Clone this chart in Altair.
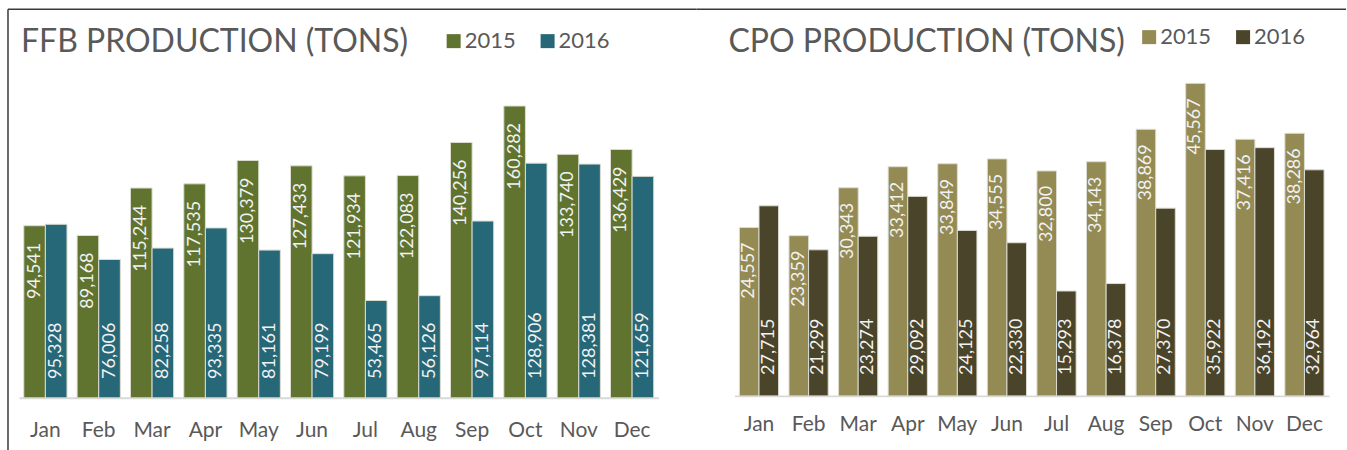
import altair as alt
import pandas as pd

months = ["Jan", "Feb", "Mar", "Apr", "May", "Jun", "Jul", "Aug", "Sep", "Oct", "Nov", "Dec"]
years = ["2015", "2016"]

ffb_2015 = [94541, 89168, 115244, 117535, 130379, 127433, 121934, 122083, 140256, 160282, 133740, 136429]
ffb_2016 = [95328, 76006, 82258, 93335, 81161, 79199, 53465, 56126, 97114, 128906, 128381, 121659]
cpo_2015 = [24557, 23359, 30343, 33412, 33849, 34555, 32800, 34143, 38869, 45567, 37416, 38286]
cpo_2016 = [27715, 21299, 23274, 29092, 24125, 22330, 15293, 16378, 27370, 35922, 36192, 32964]

ffb_colors = ["#607430", "#266878"]
cpo_colors = ["#948A54", "#4A452A"]

FONT = "Lato"
GRAY = "#595959"
FRAME = "#3a3a3a"


def panel(title, v15, v16, colors, width, height, ymax, pin, pout, label_pad,
          dx_top, dx_base, title_dx, legend_x, legend_y, rule_x1, rule_x2, left_rule):
    df = pd.DataFrame({
        "month": months * 2,
        "year": ["2015"] * 12 + ["2016"] * 12,
        "value": v15 + v16,
    })
    base = alt.Chart(df)
    x = alt.X("month:N", sort=months,
              scale=alt.Scale(paddingInner=pin, paddingOuter=pout),
              axis=alt.Axis(title=None, labelAngle=0, labelFont=FONT, labelFontSize=21,
                            labelColor=GRAY, labelPadding=label_pad, ticks=False,
                            domainColor="#d9d9d9", domainWidth=2, grid=False))
    y = alt.Y("value:Q", scale=alt.Scale(domain=[0, ymax], nice=False, zero=True), axis=None)
    xo = alt.XOffset("year:N", scale=alt.Scale(domain=years, paddingInner=0, paddingOuter=0))
    color = alt.Color("year:N", scale=alt.Scale(domain=years, range=colors),
                      legend=alt.Legend(title=None, orient="none", legendX=legend_x, legendY=legend_y,
                                        direction="horizontal", symbolType="square", symbolSize=196,
                                        symbolStrokeWidth=0, labelFont=FONT, labelFontSize=22,
                                        labelColor=GRAY, labelOffset=0, columnPadding=20, padding=0))
    bars = base.mark_bar(stroke="#dcdcd0", strokeWidth=1).encode(x=x, xOffset=xo, y=y, color=color)
    top_labels = base.transform_filter("datum.year == '2015'").mark_text(
        angle=270, align="right", baseline="middle", dx=dx_top, font=FONT, fontSize=18,
        color="#f2f2f2").encode(x=x, xOffset=xo, y=y, text=alt.Text("value:Q", format=","))
    base_labels = base.transform_filter("datum.year == '2016'").mark_text(
        angle=270, align="left", baseline="middle", dx=dx_base, font=FONT, fontSize=18,
        color="#f2f2f2").encode(x=x, xOffset=xo, y=alt.datum(0), text=alt.Text("value:Q", format=","))
    title_mark = alt.Chart(pd.DataFrame({"t": [title]})).mark_text(
        align="left", baseline="alphabetic", font=FONT, fontSize=32, color=GRAY
    ).encode(text="t:N", x=alt.value(title_dx), y=alt.value(-18))
    one = pd.DataFrame({"a": [0]})
    layers = [bars, top_labels, base_labels, title_mark]
    layers.append(alt.Chart(one).mark_rule(color=FRAME, strokeWidth=1.5).encode(
        x=alt.value(rule_x1), x2=alt.value(rule_x2), y=alt.value(-61)))
    if left_rule:
        layers.append(alt.Chart(one).mark_rule(color=FRAME, strokeWidth=1.5).encode(
            x=alt.value(-11), y=alt.value(-61), y2=alt.value(385)))
    return alt.layer(*layers).properties(width=width, height=height)


left = panel("FFB PRODUCTION (TONS)", ffb_2015, ffb_2016, ffb_colors, 640, 328, 180000,
             0.19, 0.09, 22, -17, 19, 2, 424, -40, -11, 678, True)
right = panel("CPO PRODUCTION (TONS)", cpo_2015, cpo_2016, cpo_colors, 595, 326, 47500,
              0.21, 0.10, 18, -15, 21, -6, 404, -44, -38, 612, False)

chart = alt.hconcat(left, right, spacing=76, bounds="flush").resolve_scale(
    color="independent", x="independent", y="independent", xOffset="independent"
).properties(
    padding={"left": 7, "top": 8, "right": 0, "bottom": 0}
).configure(background="white").configure_view(strokeWidth=0, stroke="transparent")

chart.save("out.html", embed_options={"renderer": "svg", "actions": False})
